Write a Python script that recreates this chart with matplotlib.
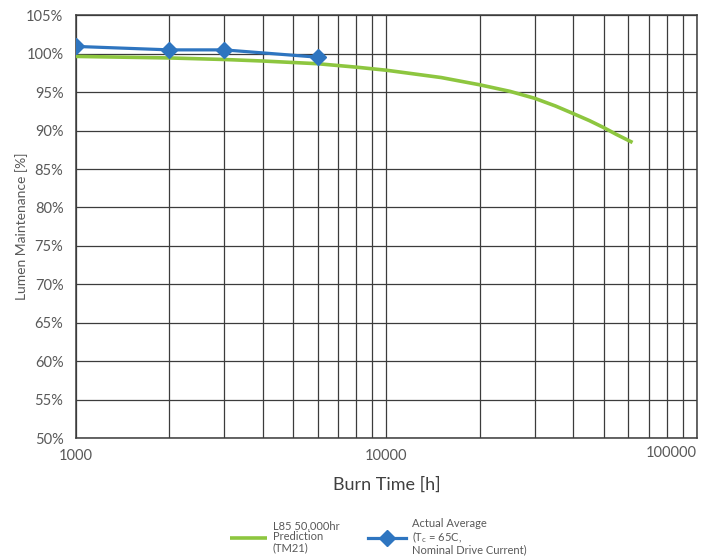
import matplotlib
matplotlib.use("Agg")
import matplotlib.pyplot as plt
from matplotlib.ticker import FixedLocator, NullFormatter
from matplotlib.transforms import blended_transform_factory

plt.rcParams['font.family'] = ['Lato', 'DejaVu Sans']
plt.rcParams['mathtext.fontset'] = 'custom'
plt.rcParams['mathtext.rm'] = 'Lato'

# TM21 prediction curve (burn hours, % lumen maintenance)
pred_hours = [1000, 2000, 3000, 4000, 6000, 8000, 10000, 15000, 20000,
              25000, 30000, 35000, 40000, 45000, 50000, 55000, 62000]
pred_lumen = [99.65, 99.45, 99.25, 99.05, 98.7, 98.25, 97.85, 96.9, 95.95,
              95.1, 94.2, 93.2, 92.2, 91.3, 90.4, 89.5, 88.45]

# measured average
actual_hours = [1000, 2000, 3000, 6000]
actual_lumen = [100.95, 100.5, 100.5, 99.55]

y_ticks = list(range(50, 106, 5))
x_major = [1000, 10000, 100000]
x_minor = [2000, 3000, 4000, 5000, 6000, 7000, 8000, 9000,
           20000, 30000, 40000, 50000, 60000, 70000, 80000, 90000]

grid_col = '#3c3c3c'
text_col = '#595959'

fig = plt.figure(figsize=(7.16, 5.56), dpi=100)
ax = fig.add_axes([0.1061, 0.2122, 0.8674, 0.7603])

ax.plot(pred_hours, pred_lumen, color='#8dc63f', lw=2.6, solid_capstyle='butt',
        label='L85 50,000hr\nPrediction\n(TM21)', zorder=3)
ax.plot(actual_hours, actual_lumen, color='#2e75c0', lw=2.3, marker='D',
        markersize=8.5, label='Actual Average\n(T$_\\mathrm{c}$ = 65C,\nNominal Drive Current)',
        zorder=4)

ax.set_xscale('log')
ax.set_xlim(1000, 100000)
ax.set_ylim(50, 105)
ax.xaxis.set_major_locator(FixedLocator(x_major))
ax.xaxis.set_minor_locator(FixedLocator(x_minor))
ax.xaxis.set_minor_formatter(NullFormatter())
# the last label is drawn separately so it can sit right-aligned on the edge
ax.set_xticklabels([str(v) for v in x_major[:-1]] + [''])
ax.set_yticks(y_ticks)
ax.set_yticklabels([f'{v}%' for v in y_ticks])

ax.grid(True, which='both', axis='x', color=grid_col, lw=0.9)
ax.grid(True, which='major', axis='y', color=grid_col, lw=0.9)
ax.set_axisbelow(True)
for s in ax.spines.values():
    s.set_color(grid_col)
    s.set_linewidth(1.1)

ax.tick_params(axis='both', which='both', length=0, colors=text_col, labelsize=10.5)
ax.tick_params(axis='y', pad=9)
ax.tick_params(axis='x', pad=8)

trans = blended_transform_factory(ax.transData, ax.transAxes)
ax.text(x_major[-1], -0.02, str(x_major[-1]), transform=trans, ha='right', va='top',
        fontsize=10.5, color=text_col)

ax.set_xlabel('Burn Time [h]', fontsize=13, color='#404040', labelpad=10)
ax.set_ylabel('Lumen Maintenance [%]', fontsize=10, color=text_col, labelpad=-1)

leg = fig.legend(loc='upper center', bbox_to_anchor=(0.528, 0.068), ncol=2,
                 frameon=False, fontsize=8, handlelength=3.4, handletextpad=0.5,
                 columnspacing=2.6, borderaxespad=0, borderpad=0)
for t in leg.get_texts():
    t.set_color(text_col)
    t.set_linespacing(1.0)

fig.savefig('out.png', dpi=100)
